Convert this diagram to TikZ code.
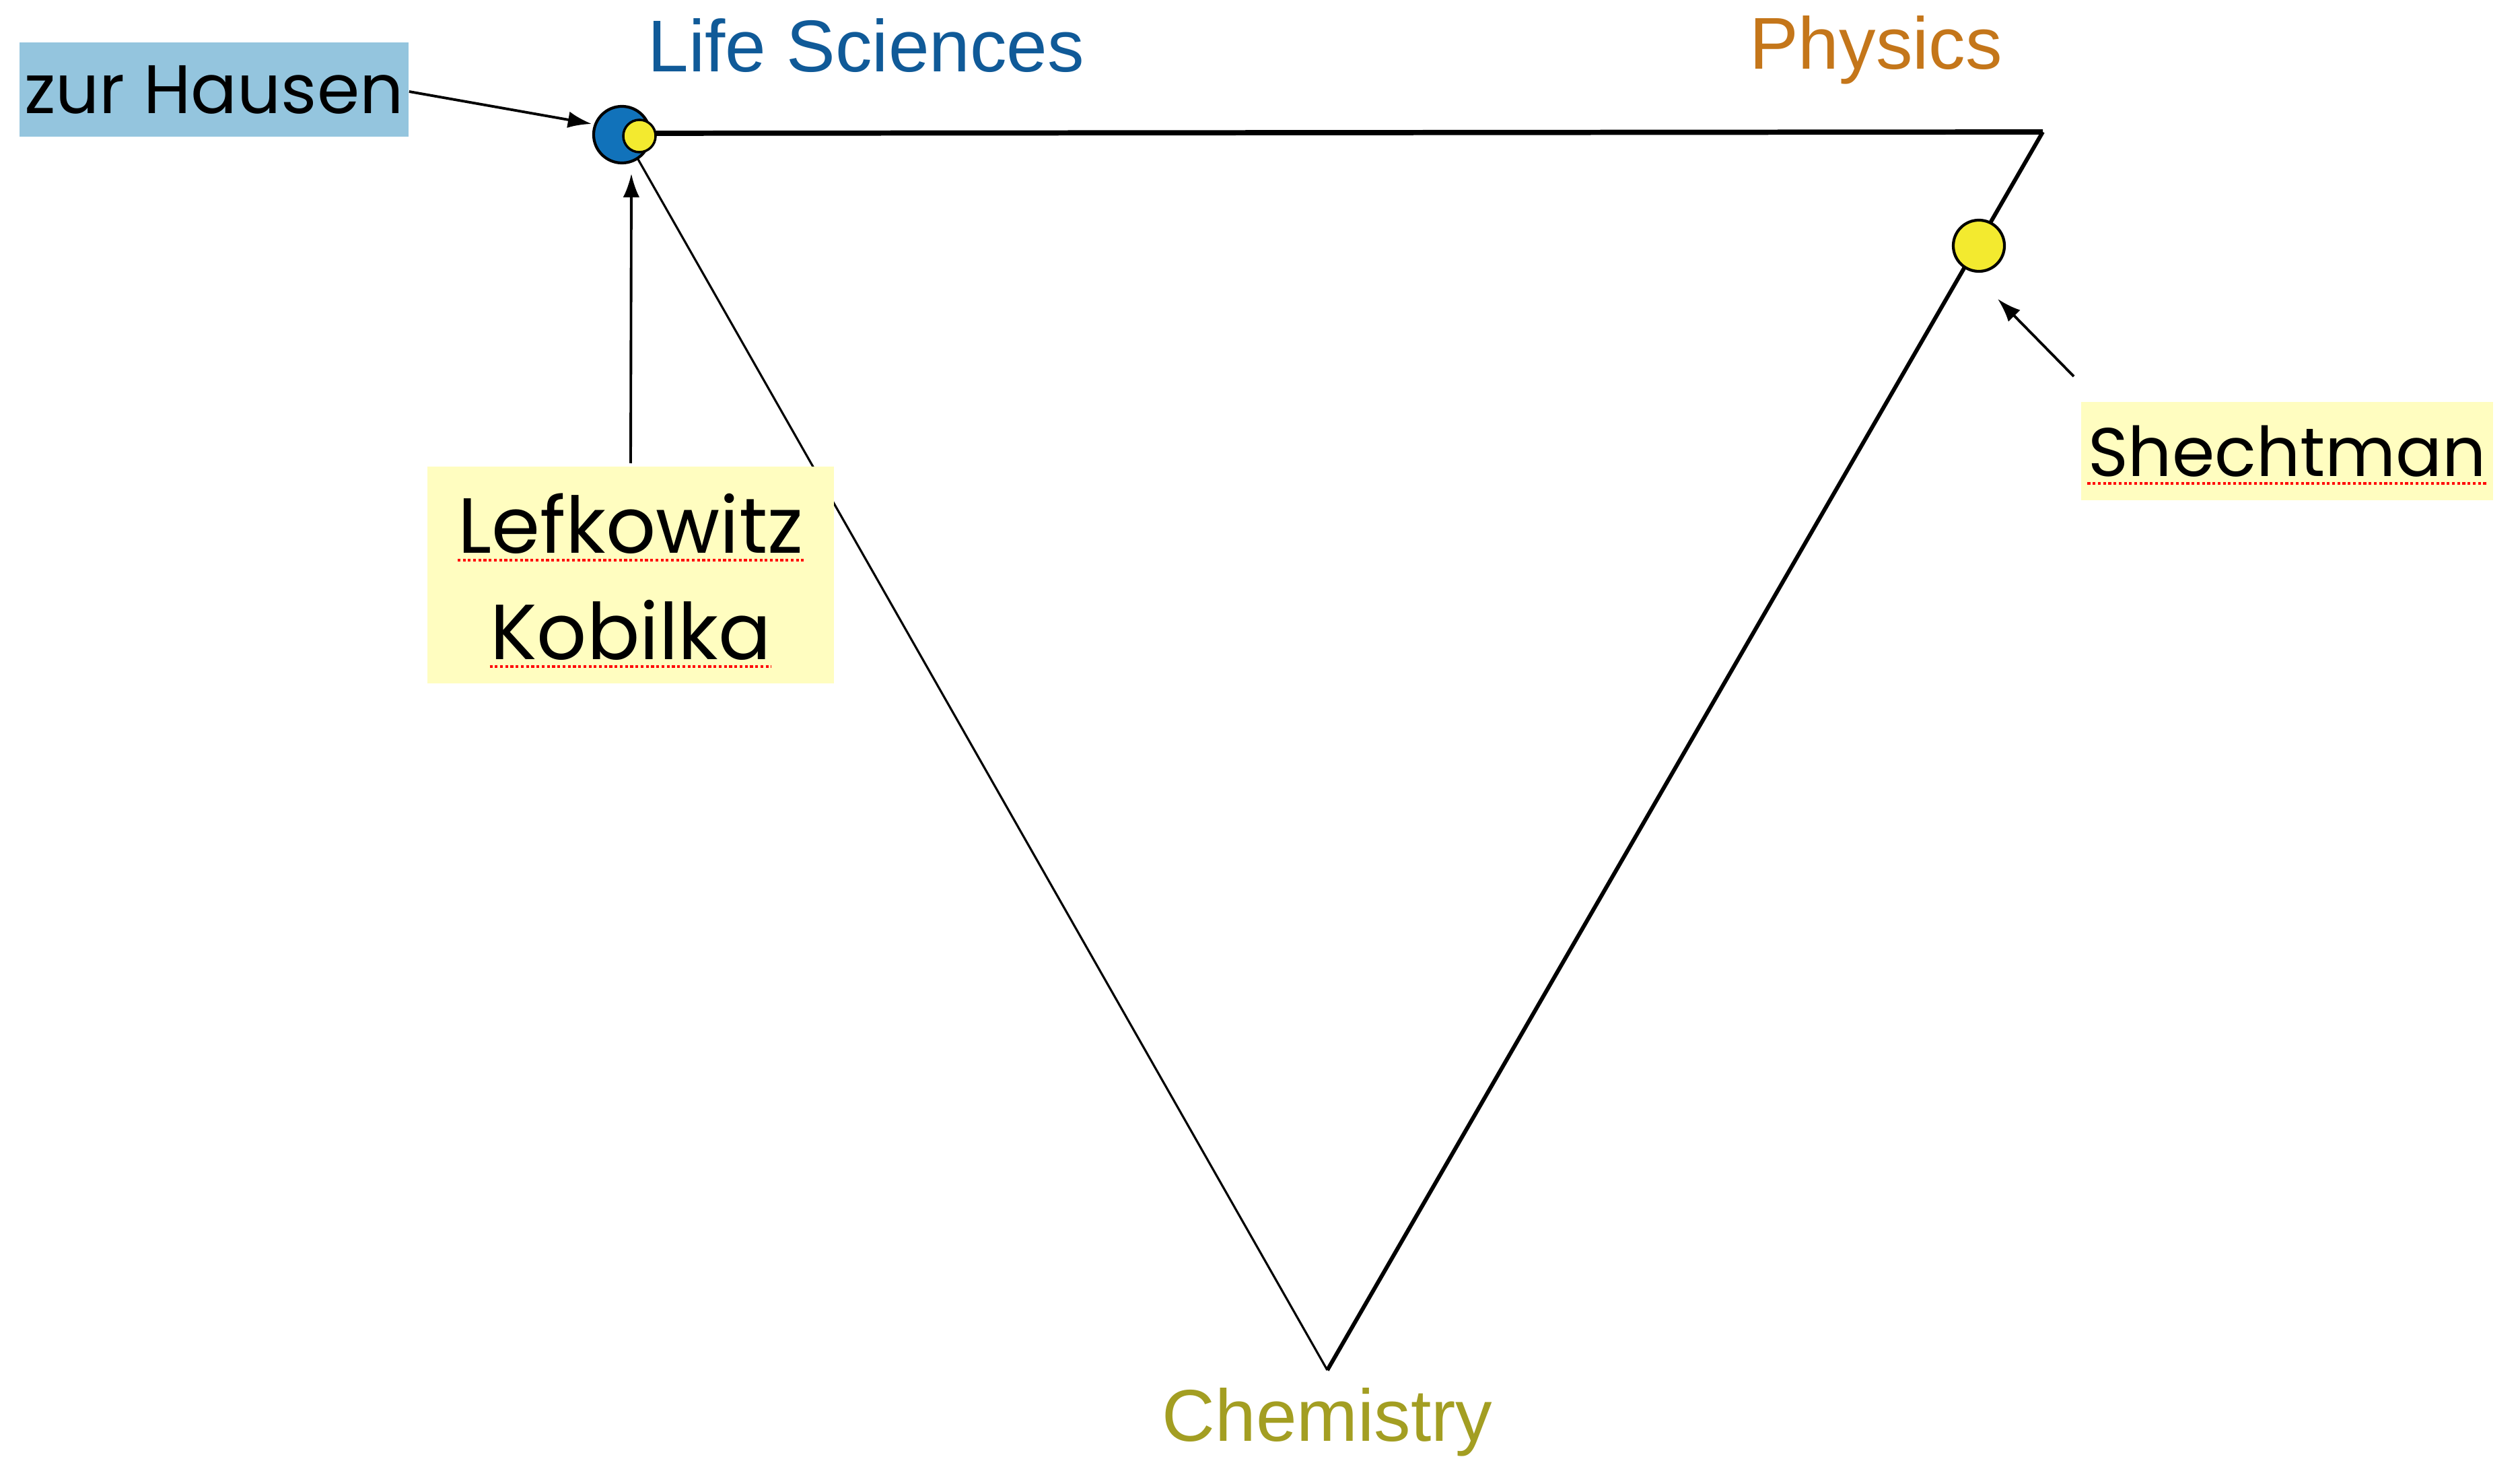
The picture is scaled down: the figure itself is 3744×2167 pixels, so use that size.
\documentclass[tikz,border=0pt]{standalone}
\usepackage{fontspec}
\setmainfont{Liberation Sans}
\newfontfamily\namefont{Poppins}
\usetikzlibrary{positioning}
\usetikzlibrary{arrows.meta}

\definecolor{lifeblue}{HTML}{105A98}
\definecolor{physorange}{HTML}{C4761A}
\definecolor{chemolive}{HTML}{A39E22}
\definecolor{dotblue}{HTML}{1172BA}
\definecolor{dotyellow}{HTML}{F3EA2F}
\definecolor{hausenbg}{HTML}{94C5DE}
\definecolor{namebg}{HTML}{FFFDC0}

\begin{document}
\begin{tikzpicture}[x=0.01cm, y=-0.01cm,
		field/.style={font=\fontsize{31}{37}\selectfont},
		laureate/.style={font=\namefont\fontsize{29}{40}\selectfont, inner sep=0pt},
		namebox/.style={inner sep=0pt, minimum width=#1},
		dot/.style={circle, draw, line width=1.2pt, inner sep=0pt, minimum size=#1},
		pointer/.style={-{Latex[length=10pt, width=7pt]}, line width=1.1pt},
		spell/.style={red, densely dotted, line width=1.2pt}]
				\useasboundingbox (0,0) rectangle (3744,2167);
				\node[shape=coordinate] (life) at ( 926, 198) {};
				\node[shape=coordinate] (phys) at (3035, 196) {};
				\node[shape=coordinate] (chem) at (1972,2035) {};
				% triangle
				\draw[line width=0.9pt] (life) -- (chem);
				\draw[line width=1.7pt] (chem) -- (phys);
				\draw[line width=2.2pt, line join=round] (phys) -- (life);
				% field labels
				\node[field, text=lifeblue]   (lifelbl) at (1287, 68) {Life Sciences};
				\node[field, text=physorange] (physlbl) at (2787, 74) {Physics};
				\node[field, text=chemolive]  (chemlbl) at (1972,2112) {Chemistry};
				% laureates on the triangle
				\node[dot=0.84cm, fill=dotblue] (lifedot) at (924,200) {};
				\node[dot=0.48cm, fill=dotyellow, line width=1pt] (chemdot) at (950,202) {};
				\node[dot=0.76cm, fill=dotyellow] (physdot) at (2940,365) {};
				% name boxes
				\node[fill=hausenbg, namebox=5.78cm, minimum height=1.39cm] (hausenbox) at (318,133) {};
				\node[laureate] (hausen) at (hausenbox) {zur Hausen};
				\node[fill=namebg, namebox=6.04cm, minimum height=3.22cm] (lkbox) at (937,854) {};
				\node[laureate, font=\namefont\fontsize{33}{40}\selectfont] (lef) at (937,778) {Lefkowitz};
				\node[laureate, font=\namefont\fontsize{33}{40}\selectfont] (kob) at (937,936) {Kobilka};
				\node[fill=namebg, namebox=6.12cm, minimum height=1.46cm] (shbox) at (3398,670) {};
				\node[laureate] (shech) at (shbox) {Shechtman};
				\draw[spell] ([yshift=-3pt]lef.base west) -- ([yshift=-3pt]lef.base east);
				\draw[spell] ([yshift=-3pt]kob.base west) -- ([yshift=-3pt]kob.base east);
				\draw[spell] ([yshift=-3pt]shech.base west) -- ([yshift=-3pt]shech.base east);
				% pointers
				\coordinate (hausentip) at (879,184);
				\coordinate (lktip) at (938,258);
				\coordinate (shtip) at (2968,444);
				\draw[pointer] (hausenbox.east |- 633,136) -- (hausentip);
				\draw[pointer] (lkbox.north |- 938,688) -- (lktip);
				\draw[pointer] (3081,559) -- (shtip);
			\end{tikzpicture}
\end{document}
